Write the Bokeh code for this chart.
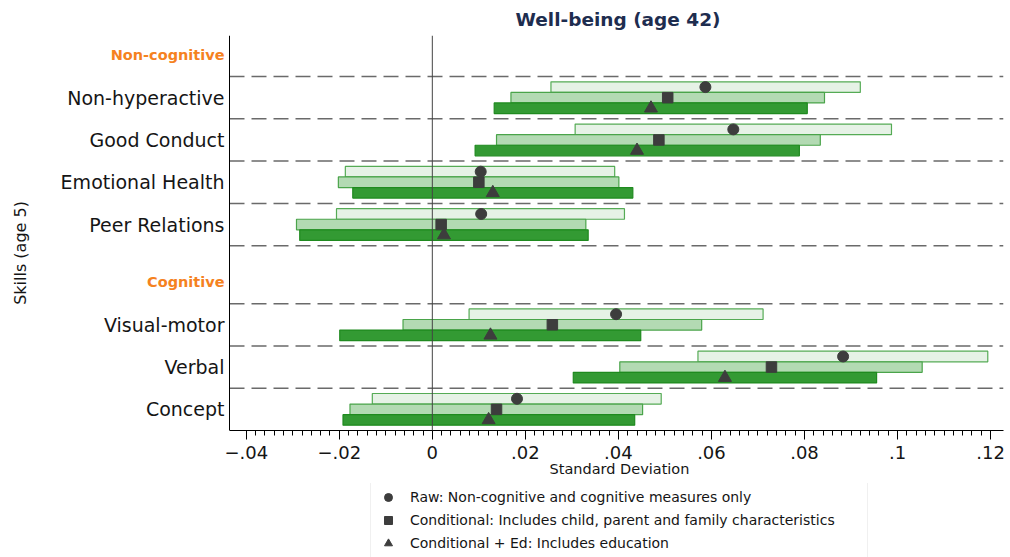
from bokeh.plotting import figure
from bokeh.layouts import column
from bokeh.core.properties import value
from bokeh.models import (ColumnDataSource, FixedTicker, Span, Legend,
                          LegendItem, Range1d, Title)
from bokeh.embed import file_html
from bokeh.resources import INLINE
import math

# ---------------- data ----------------
skills = ["Non-hyperactive", "Good Conduct", "Emotional Health", "Peer Relations",
          "Visual-motor", "Verbal", "Concept"]
groups = ["Non-cognitive", "Cognitive"]

raw_est = [0.0587, 0.0647, 0.0104, 0.0105, 0.0395, 0.0883, 0.0182]
raw_lo = [0.0255, 0.0307, -0.0187, -0.0206, 0.0079, 0.0571, -0.0129]
raw_hi = [0.0920, 0.0987, 0.0392, 0.0413, 0.0711, 0.1194, 0.0492]

cond_est = [0.0506, 0.0487, 0.0100, 0.0019, 0.0258, 0.0729, 0.0138]
cond_lo = [0.0169, 0.0138, -0.0202, -0.0292, -0.0063, 0.0403, -0.0177]
cond_hi = [0.0843, 0.0834, 0.0401, 0.0330, 0.0579, 0.1053, 0.0452]

ed_est = [0.0470, 0.0440, 0.0130, 0.0025, 0.0125, 0.0629, 0.0121]
ed_lo = [0.0133, 0.0092, -0.0171, -0.0285, -0.0199, 0.0303, -0.0192]
ed_hi = [0.0806, 0.0789, 0.0431, 0.0335, 0.0448, 0.0955, 0.0435]

x_ticks = [-0.04, -0.02, 0, 0.02, 0.04, 0.06, 0.08, 0.1, 0.12]
x_tick_labels = ["\u2212.04", "\u2212.02", "0", ".02", ".04", ".06", ".08", ".1", ".12"]

legend_labels = ["Raw: Non-cognitive and cognitive measures only",
                 "Conditional: Includes child, parent and family characteristics",
                 "Conditional + Ed: Includes education"]

title_text = "Well-being (age 42)"
y_title = "Skills (age 5)"
x_title = "Standard Deviation"

# ---------------- layout ----------------
skill_y = [7.87, 6.87, 5.87, 4.87, 2.5, 1.5, 0.5]
group_y = [8.87, 3.5]
separators = [8.37, 7.37, 6.37, 5.37, 4.37, 3, 2, 1]
off = 0.25
bar_h = 0.25
y_top = 9.34

px_per_unit = 4652.0        # 46.52 px per 0.01
axis_px = 229               # left axis position in px
frame_w = 1003
x_axis_pos = -0.0436        # data value where the left axis sits
x_left = x_axis_pos - axis_px / px_per_unit
x_right = x_left + frame_w / px_per_unit

FONT = "DejaVu Sans"
TXT = "#151515"
MCOL = "#3d3d3d"

p = figure(width=1010, height=483, output_backend="svg", toolbar_location=None,
           x_range=Range1d(x_left, x_right), y_range=Range1d(0, y_top),
           min_border_left=0, min_border_right=7, min_border_top=34,
           min_border_bottom=53, title=title_text)
p.outline_line_color = None
p.xgrid.visible = False
p.ygrid.visible = False
p.yaxis.visible = False
p.background_fill_color = "white"
p.border_fill_color = "white"

p.title.align = "left"
p.title.offset = 515
p.title.text_font = FONT
p.title.text_font_size = "18.5px"
p.title.text_font_style = "bold"
p.title.text_color = "#1e2d4f"
p.title.standoff = 12

# left axis line, separators and zero line
p.add_layout(Span(location=x_axis_pos, dimension="height", line_color="black",
                  line_width=1))
p.segment(x0=[x_axis_pos] * len(separators), x1=[x_right] * len(separators),
          y0=separators, y1=separators, line_color="#6a6a6a", line_width=1.5,
          line_dash="15 7")
p.add_layout(Span(location=0, dimension="height", line_color="#444444", line_width=1))

ys_raw = [y + off for y in skill_y]
ys_cond = list(skill_y)
ys_ed = [y - off for y in skill_y]

src_raw = ColumnDataSource(dict(y=ys_raw, lo=raw_lo, hi=raw_hi, est=raw_est))
src_cond = ColumnDataSource(dict(y=ys_cond, lo=cond_lo, hi=cond_hi, est=cond_est))
src_ed = ColumnDataSource(dict(y=ys_ed, lo=ed_lo, hi=ed_hi, est=ed_est))

p.hbar(y="y", left="lo", right="hi", height=bar_h, source=src_raw,
       fill_color="#e6f2e6", line_color="#55ab55", line_width=1.2)
p.hbar(y="y", left="lo", right="hi", height=bar_h, source=src_cond,
       fill_color="#b3dab3", line_color="#4aa44a", line_width=1.2)
p.hbar(y="y", left="lo", right="hi", height=bar_h, source=src_ed,
       fill_color="#339a33", line_color="#1f8a1f", line_width=1.2)

marker_specs = [(src_raw, "circle", 11), (src_cond, "square", 10.5),
                (src_ed, "triangle", 13)]
for src, mk, sz in marker_specs:
    p.scatter(x="est", y="y", source=src, marker=mk, size=sz,
              fill_color=MCOL, line_color=MCOL)

# y labels (skills) and group headers, right-aligned at the left axis
p.text(x=[x_axis_pos] * len(skills), y=skill_y, text=skills, x_offset=-5,
       text_align="right", text_baseline="middle", text_font=value(FONT),
       text_font_size=value("19px"), text_color=TXT)
p.text(x=[x_axis_pos] * len(groups), y=group_y, text=groups, x_offset=-5,
       text_align="right", text_baseline="middle", text_font=value(FONT),
       text_font_size=value("14.5px"), text_font_style="bold",
       text_color="#f5821f")
# y axis title
p.text(x=[x_left + 20 / px_per_unit], y=[(430 - 252) / 42.4], text=[y_title],
       angle=math.pi / 2, text_align="center", text_baseline="middle",
       text_font=value(FONT), text_font_size=value("16px"), text_color=TXT)

# x axis
minor = [round(-0.04 + 0.002 * i, 3) for i in range(81)]
xa = p.xaxis[0]
xa.bounds = (x_axis_pos, x_right)
xa.ticker = FixedTicker(ticks=x_ticks, minor_ticks=minor)
xa.major_label_overrides = dict(zip(x_ticks, x_tick_labels))
xa.axis_line_color = "black"
xa.major_tick_line_color = "black"
xa.minor_tick_line_color = "black"
xa.major_tick_out = 9
xa.major_tick_in = 0
xa.minor_tick_out = 5
xa.minor_tick_in = 0
xa.major_label_standoff = 6
xa.major_label_text_font = FONT
xa.major_label_text_font_size = "18px"
xa.major_label_text_color = TXT

# x axis title, centred under the plotting area
p.add_layout(Title(text=x_title, align="left", offset=549, standoff=-6,
                   text_font=FONT, text_font_size="14.5px",
                   text_font_style="normal", text_color=TXT), "below")

# ---------------- legend strip ----------------
lg = figure(width=1010, height=74, output_backend="svg", toolbar_location=None,
            x_range=Range1d(10, 11), y_range=Range1d(10, 11),
            min_border_left=0, min_border_right=0, min_border_top=0,
            min_border_bottom=0)
lg.outline_line_color = None
lg.axis.visible = False
lg.grid.visible = False
items = []
for (src, mk, sz), lab in zip(marker_specs, legend_labels):
    r = lg.scatter(x="est", y="y", source=src, marker=mk, size=sz - 1,
                   fill_color=MCOL, line_color=MCOL)
    items.append(LegendItem(label=lab, renderers=[r]))
legend = Legend(items=items, location=(370, -2), orientation="vertical",
                glyph_width=24, glyph_height=20, label_height=20,
                label_standoff=10, label_width=452, padding=5, spacing=3,
                margin=0, border_line_color="#e2e2e2", border_line_width=1,
                label_text_font=FONT, label_text_font_size="14px",
                label_text_color=TXT, background_fill_color="white",
                background_fill_alpha=1.0)
lg.add_layout(legend)

layout = column(p, lg, spacing=0)
open("out.html", "w").write(file_html(layout, INLINE))
